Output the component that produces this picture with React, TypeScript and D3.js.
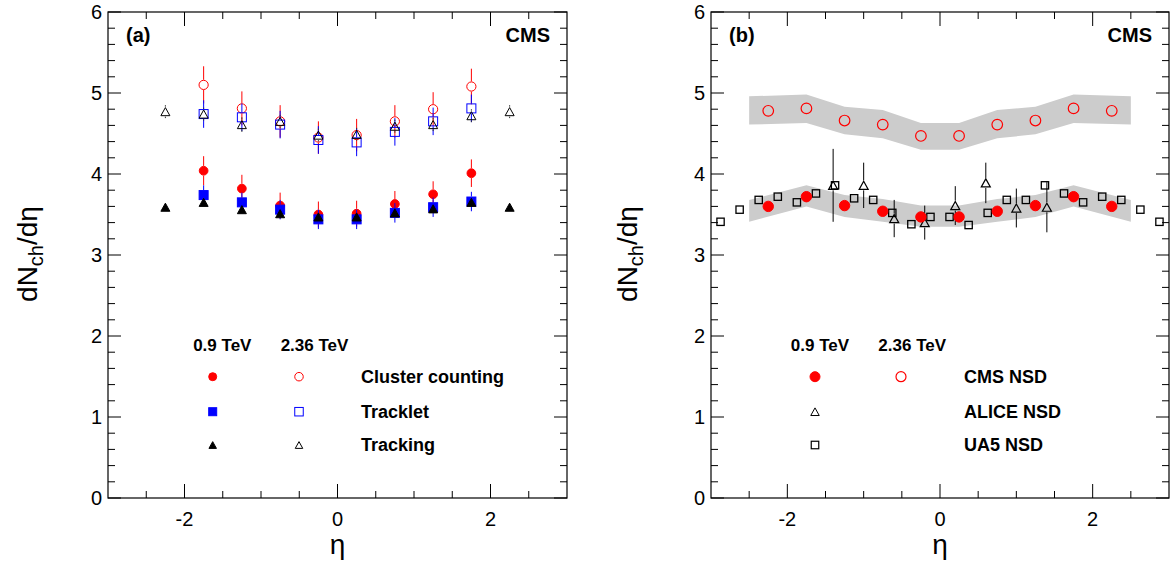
import React from "react";
import * as d3 from "d3";

// ---------- Data: panel (a) ----------
const etaA8 = [-1.75, -1.25, -0.75, -0.25, 0.25, 0.75, 1.25, 1.75];
const etaA10 = [-2.25, -1.75, -1.25, -0.75, -0.25, 0.25, 0.75, 1.25, 1.75, 2.25];

const cluster09 = [4.04, 3.82, 3.61, 3.5, 3.51, 3.63, 3.75, 4.01];
const cluster09Err = [0.18, 0.17, 0.16, 0.16, 0.16, 0.16, 0.16, 0.17];
const cluster236 = [5.1, 4.81, 4.65, 4.45, 4.48, 4.65, 4.8, 5.08];
const cluster236Err = [0.23, 0.21, 0.2, 0.2, 0.2, 0.2, 0.21, 0.22];

const tracklet09 = [3.74, 3.65, 3.56, 3.44, 3.44, 3.52, 3.59, 3.66];
const tracklet09Err = [0.12, 0.12, 0.12, 0.12, 0.12, 0.12, 0.12, 0.12];
const tracklet236 = [4.74, 4.7, 4.61, 4.42, 4.39, 4.52, 4.65, 4.81];
const tracklet236Err = [0.17, 0.17, 0.17, 0.17, 0.17, 0.17, 0.17, 0.17];

const tracking09 = [3.59, 3.65, 3.56, 3.51, 3.47, 3.47, 3.52, 3.57, 3.65, 3.59];
const tracking09Err = [0.05, 0.05, 0.05, 0.05, 0.05, 0.05, 0.05, 0.05, 0.05, 0.05];
const tracking236 = [4.77, 4.74, 4.61, 4.65, 4.48, 4.49, 4.59, 4.61, 4.72, 4.77];
const tracking236Err = [0.08, 0.08, 0.09, 0.08, 0.08, 0.08, 0.08, 0.08, 0.08, 0.08];

// ---------- Data: panel (b) ----------
const etaB = [-2.25, -1.75, -1.25, -0.75, -0.25, 0.25, 0.75, 1.25, 1.75, 2.25];
const cms09 = [3.6, 3.72, 3.61, 3.54, 3.47, 3.47, 3.54, 3.61, 3.72, 3.6];
const cms236 = [4.78, 4.81, 4.66, 4.61, 4.47, 4.47, 4.61, 4.66, 4.81, 4.78];

const bandEta = [-2.5, -1.75, -1.25, -0.75, -0.25, 0.25, 0.75, 1.25, 1.75, 2.5];
const band09Lo = [3.41, 3.6, 3.47, 3.41, 3.35, 3.35, 3.41, 3.47, 3.6, 3.41];
const band09Hi = [3.68, 3.86, 3.74, 3.69, 3.61, 3.61, 3.69, 3.74, 3.86, 3.68];
const band236Lo = [4.61, 4.63, 4.49, 4.44, 4.3, 4.3, 4.44, 4.49, 4.63, 4.61];
const band236Hi = [4.96, 4.98, 4.83, 4.79, 4.63, 4.63, 4.79, 4.83, 4.98, 4.96];

const aliceEta = [-1.4, -1.0, -0.6, -0.2, 0.2, 0.6, 1.0, 1.4];
const aliceVal = [3.86, 3.86, 3.45, 3.4, 3.61, 3.89, 3.58, 3.59];
const aliceErr = [0.45, 0.28, 0.23, 0.21, 0.24, 0.25, 0.24, 0.31];

const ua5Eta = [
  -2.875, -2.625, -2.375, -2.125, -1.875, -1.625, -1.375, -1.125, -0.875, -0.625, -0.375, -0.125,
  0.125, 0.375, 0.625, 0.875, 1.125, 1.375, 1.625, 1.875, 2.125, 2.375, 2.625, 2.875,
];
const ua5Val = [
  3.41, 3.56, 3.68, 3.72, 3.65, 3.76, 3.86, 3.7, 3.68, 3.52, 3.38, 3.47,
  3.47, 3.37, 3.52, 3.68, 3.68, 3.86, 3.76, 3.65, 3.72, 3.68, 3.56, 3.41,
];
const ua5Err = 0.05;

// ---------- Axis / labels ----------
const yMajor = [0, 1, 2, 3, 4, 5, 6];
const xMajor = [-2, 0, 2];
const legendA = ["Cluster counting", "Tracklet", "Tracking"];
const legendB = ["CMS NSD", "ALICE NSD", "UA5 NSD"];
const energies = ["0.9 TeV", "2.36 TeV"];

const FONT = "'Liberation Sans', Arial, Helvetica, sans-serif";
const W = 1170;
const H = 568;

const yS = d3.scaleLinear().domain([0, 6]).range([498, 12]);
const xA = d3.scaleLinear().domain([-3, 3]).range([108, 567]);
const xB = d3.scaleLinear().domain([-3, 3]).range([711, 1169]);

const RED = "#ff0000";
const BLUE = "#0000ff";

type MarkerKind = "circle" | "square" | "triangle";

function Marker({ kind, x, y, size, color, filled, sw = 1 }: any) {
  const fill = filled ? color : "none";
  if (kind === "circle") {
    return <circle cx={x} cy={y} r={size / 2} fill={fill} stroke={color} strokeWidth={sw} />;
  }
  if (kind === "square") {
    return (
      <rect x={x - size / 2} y={y - size / 2} width={size} height={size} fill={fill} stroke={color} strokeWidth={sw} />
    );
  }
  const h = size * 0.9;
  const d = `M${x - size / 2},${y + h / 2}L${x + size / 2},${y + h / 2}L${x},${y - h / 2}Z`;
  return <path d={d} fill={fill} stroke={color} strokeWidth={sw} strokeLinejoin="miter" />;
}

function ErrBar({ x, v, e, gap, color, width = 1, dash }: any) {
  const yc = yS(v);
  const yt = yS(v + e);
  const yb = yS(v - e);
  const segs: any[] = [];
  if (yc - gap > yt) segs.push([yt, yc - gap]);
  if (yc + gap < yb) segs.push([yc + gap, yb]);
  return (
    <g>
      {segs.map((s, i) => (
        <line key={i} x1={x} x2={x} y1={s[0]} y2={s[1]} stroke={color} strokeWidth={width} strokeDasharray={dash} />
      ))}
    </g>
  );
}

function Series({ xs, eta, vals, errs, kind, size, color, filled, errColor, sw, dash }: any) {
  return (
    <g>
      {eta.map((e: number, i: number) => (
        <ErrBar
          key={"e" + i}
          x={xs(e)}
          v={vals[i]}
          e={Array.isArray(errs) ? errs[i] : errs}
          gap={size / 2 + 0.5}
          color={errColor || color}
          dash={dash}
        />
      ))}
      {eta.map((e: number, i: number) => (
        <Marker key={"m" + i} kind={kind} x={xs(e)} y={yS(vals[i])} size={size} color={color} filled={filled} sw={sw} />
      ))}
    </g>
  );
}

function Frame({ xs, tag, labelX }: any) {
  const [x0, x1] = xs.range();
  const yB = yS(0);
  const yT = yS(6);
  const xMinor = d3.range(-2.5, 2.51, 0.5).filter((v) => !xMajor.includes(v));
  const yMinor = d3.range(0.2, 6, 0.2).filter((v) => Math.abs(v - Math.round(v)) > 1e-6);
  return (
    <g fontFamily={FONT}>
      <rect x={x0} y={yT} width={x1 - x0} height={yB - yT} fill="none" stroke="#000" strokeWidth={1.2} />
      {xMajor.map((v) => (
        <g key={"xm" + v}>
          <line x1={xs(v)} x2={xs(v)} y1={yB} y2={yB - 14} stroke="#000" />
          <line x1={xs(v)} x2={xs(v)} y1={yT} y2={yT + 14} stroke="#000" />
          <text x={xs(v)} y={526} fontSize={20} textAnchor="middle">
            {v < 0 ? "-" + Math.abs(v) : String(v)}
          </text>
        </g>
      ))}
      {xMinor.map((v) => (
        <g key={"xn" + v}>
          <line x1={xs(v)} x2={xs(v)} y1={yB} y2={yB - 7} stroke="#000" />
          <line x1={xs(v)} x2={xs(v)} y1={yT} y2={yT + 7} stroke="#000" />
        </g>
      ))}
      {yMajor.map((v) => (
        <g key={"ym" + v}>
          <line x1={x0} x2={x0 + 13} y1={yS(v)} y2={yS(v)} stroke="#000" />
          <line x1={x1} x2={x1 - 13} y1={yS(v)} y2={yS(v)} stroke="#000" />
          <text x={x0 - 6} y={yS(v) + 7} fontSize={20} textAnchor="end">
            {String(v)}
          </text>
        </g>
      ))}
      {yMinor.map((v, i) => (
        <g key={"yn" + i}>
          <line x1={x0} x2={x0 + 7} y1={yS(v)} y2={yS(v)} stroke="#000" />
          <line x1={x1} x2={x1 - 7} y1={yS(v)} y2={yS(v)} stroke="#000" />
        </g>
      ))}
      <text x={xs(0)} y={554} fontSize={28} textAnchor="middle">
        η
      </text>
      <text transform={`translate(${labelX},254) rotate(-90)`} fontSize={28} textAnchor="middle">
        dN
        <tspan dy={6} fontSize={20}>
          ch
        </tspan>
        <tspan dy={-6}>/dη</tspan>
      </text>
      <text x={x0 + 18} y={42} fontSize={20} fontWeight="bold">
        {tag}
      </text>
      <text x={x1 - 17} y={42} fontSize={20} fontWeight="bold" textAnchor="end">
        CMS
      </text>
    </g>
  );
}

function PanelA() {
  const rows = [376.7, 411.7, 445];
  const mx = [212.7, 299];
  const kinds: MarkerKind[] = ["circle", "square", "triangle"];
  const colors = [RED, BLUE, "#000"];
  return (
    <g>
      <Frame xs={xA} tag="(a)" labelX={36.5} />
      <Series xs={xA} eta={etaA8} vals={cluster09} errs={cluster09Err} kind="circle" size={8.7} color={RED} filled />
      <Series xs={xA} eta={etaA8} vals={cluster236} errs={cluster236Err} kind="circle" size={9.2} color={RED} filled={false} />
      <Series xs={xA} eta={etaA8} vals={tracklet09} errs={tracklet09Err} kind="square" size={9} color={BLUE} filled />
      <Series xs={xA} eta={etaA8} vals={tracklet236} errs={tracklet236Err} kind="square" size={9} color={BLUE} filled={false} />
      <Series xs={xA} eta={etaA10} vals={tracking09} errs={tracking09Err} kind="triangle" size={9} color="#000" filled errColor="#777" />
      <Series xs={xA} eta={etaA10} vals={tracking236} errs={tracking236Err} kind="triangle" size={9} color="#000" filled={false} errColor="#333" />
      <g fontFamily={FONT} fontWeight="bold" fontSize={17}>
        <text x={222.3} y={350.7} textAnchor="middle">{energies[0]}</text>
        <text x={314.5} y={350.7} textAnchor="middle">{energies[1]}</text>
        {legendA.map((t, i) => (
          <g key={t}>
            <Marker kind={kinds[i]} x={mx[0]} y={rows[i]} size={i === 2 ? 7.5 : 8} color={colors[i]} filled />
            <Marker kind={kinds[i]} x={mx[1]} y={rows[i]} size={i === 2 ? 7.5 : 8.5} color={colors[i]} filled={false} />
            <text x={361} y={rows[i] + 6.3} fontSize={18}>{t}</text>
          </g>
        ))}
      </g>
    </g>
  );
}

function PanelB() {
  const area = (lo: number[], hi: number[]) =>
    d3
      .area<number>()
      .x((_, i) => xB(bandEta[i]))
      .y0((_, i) => yS(lo[i]))
      .y1((_, i) => yS(hi[i]))(bandEta) as string;
  const rows = [376.7, 411.7, 445];
  return (
    <g>
      <path d={area(band236Lo, band236Hi)} fill="#cccccc" />
      <path d={area(band09Lo, band09Hi)} fill="#cccccc" />
      <Frame xs={xB} tag="(b)" labelX={636.5} />
      <Series xs={xB} eta={ua5Eta} vals={ua5Val} errs={ua5Err} kind="square" size={7.3} color="#000" filled={false} errColor="#aaa" sw={1.3} dash="1,1.5" />
      <Series xs={xB} eta={aliceEta} vals={aliceVal} errs={aliceErr} kind="triangle" size={9} color="#000" filled={false} sw={1.2} />
      <Series xs={xB} eta={etaB} vals={cms09} errs={0} kind="circle" size={10.4} color={RED} filled />
      <Series xs={xB} eta={etaB} vals={cms236} errs={0} kind="circle" size={10.6} color={RED} filled={false} sw={1.2} />
      <g fontFamily={FONT} fontWeight="bold" fontSize={17}>
        <text x={820} y={350.7} textAnchor="middle">{energies[0]}</text>
        <text x={912.2} y={350.7} textAnchor="middle">{energies[1]}</text>
        <Marker kind="circle" x={815} y={rows[0]} size={10} color={RED} filled />
        <Marker kind="circle" x={901} y={rows[0]} size={10} color={RED} filled={false} sw={1.2} />
        <Marker kind="triangle" x={815} y={rows[1]} size={8.5} color="#000" filled={false} />
        <Marker kind="square" x={815} y={rows[2]} size={7.5} color="#000" filled={false} sw={1.2} />
        {legendB.map((t, i) => (
          <text key={t} x={964} y={rows[i] + 6.3} fontSize={18}>{t}</text>
        ))}
      </g>
    </g>
  );
}

export default function App() {
  return (
    <svg
      width={W}
      height={H}
      viewBox={`0 0 ${W} ${H}`}
      style={{ position: "absolute", left: 0, top: 0, background: "#fff", display: "block" }}
    >
      <rect x={0} y={0} width={W} height={H} fill="#fff" />
      <PanelA />
      <PanelB />
    </svg>
  );
}
